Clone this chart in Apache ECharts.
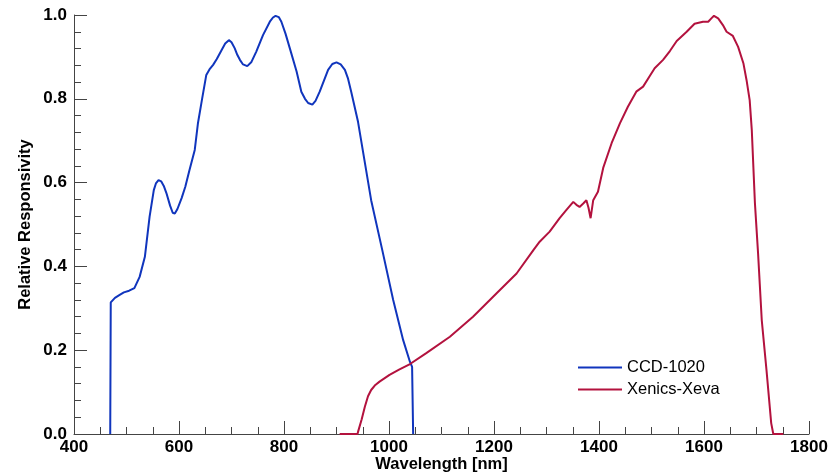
<!DOCTYPE html>
<html>
<head>
<meta charset="utf-8">
<script src="https://cdn.jsdelivr.net/npm/echarts@6/dist/echarts.min.js"></script>
<style>html,body{margin:0;padding:0;background:#fff}#c{width:832px;height:475px}</style>
</head>
<body>
<div id="c"></div>
<script>
var xTicks = [400, 600, 800, 1000, 1200, 1400, 1600, 1800];
var yTicks = [0.0, 0.2, 0.4, 0.6, 0.8, 1.0];
var seriesNames = ['CCD-1020', 'Xenics-Xeva'];

var ccdWavelength = [469, 470, 478, 487, 495, 505, 515, 525, 535, 544, 552, 556, 561, 566, 571, 576, 583, 588, 592, 597, 605, 612, 620, 630, 636, 644, 652, 658, 665, 672, 681, 688, 695, 700, 706, 711, 716, 722, 730, 738, 747, 760, 773, 779, 784, 790, 795, 803, 811, 824, 833, 840, 846, 854, 860, 868, 884, 892, 900, 908, 916, 922, 928, 941, 966, 987, 1008, 1027, 1040, 1044, 1046];
var ccdResponse = [0, 0.314, 0.325, 0.332, 0.338, 0.342, 0.348, 0.375, 0.423, 0.519, 0.582, 0.598, 0.606, 0.603, 0.592, 0.575, 0.545, 0.528, 0.526, 0.537, 0.563, 0.59, 0.630, 0.678, 0.741, 0.80, 0.857, 0.870, 0.881, 0.895, 0.916, 0.932, 0.940, 0.935, 0.921, 0.905, 0.893, 0.882, 0.878, 0.888, 0.912, 0.952, 0.984, 0.994, 0.998, 0.995, 0.984, 0.955, 0.921, 0.865, 0.817, 0.80, 0.790, 0.786, 0.795, 0.817, 0.869, 0.883, 0.887, 0.882, 0.869, 0.848, 0.817, 0.745, 0.558, 0.44, 0.320, 0.224, 0.172, 0.16, 0];

var xevaWavelength = [906, 940, 941, 948, 954, 960, 966, 974, 982, 1001, 1020, 1040, 1071, 1116, 1160, 1205, 1243, 1275, 1287, 1306, 1325, 1338, 1351, 1357, 1363, 1370, 1376, 1380, 1384, 1389, 1398, 1408, 1424, 1440, 1455, 1471, 1484, 1497, 1506, 1522, 1535, 1548, 1567, 1582, 1598, 1608, 1614, 1619, 1627, 1636, 1643, 1655, 1665, 1675, 1681, 1687, 1691, 1697, 1703, 1710, 1719, 1728, 1732, 1751];
var xevaResponse = [0, 0, 0.005, 0.035, 0.065, 0.09, 0.105, 0.117, 0.125, 0.141, 0.154, 0.167, 0.193, 0.232, 0.280, 0.336, 0.383, 0.439, 0.459, 0.483, 0.515, 0.535, 0.554, 0.547, 0.542, 0.550, 0.558, 0.54, 0.515, 0.558, 0.578, 0.635, 0.694, 0.742, 0.781, 0.817, 0.829, 0.855, 0.873, 0.893, 0.914, 0.938, 0.960, 0.979, 0.984, 0.984, 0.992, 0.998, 0.992, 0.976, 0.960, 0.950, 0.924, 0.885, 0.845, 0.797, 0.726, 0.551, 0.431, 0.272, 0.153, 0.026, 0, 0];

function pairs(xs, ys) { return xs.map(function (x, i) { return [x, ys[i]]; }); }

var font = 'Liberation Sans, Arial, sans-serif';
var axisColor = '#444';
var chart = echarts.init(document.getElementById('c'));
chart.setOption({
  animation: false,
  backgroundColor: '#fff',
  textStyle: { fontFamily: font },
  grid: { left: 74, right: 23, top: 15, bottom: 41, containLabel: false, outerBoundsMode: 'none' },
  legend: {
    orient: 'vertical', left: 578, top: 359, padding: 0,
    icon: 'rect', itemWidth: 44, itemHeight: 2, itemGap: 5,
    textStyle: { fontFamily: font, fontSize: 16.5, color: '#000' },
    data: seriesNames
  },
  xAxis: {
    type: 'value', min: xTicks[0], max: xTicks[xTicks.length - 1], interval: 200,
    name: 'Wavelength [nm]', nameLocation: 'middle', nameGap: 22, nameMoveOverlap: false,
    nameTextStyle: { fontFamily: font, fontWeight: 'bold', fontSize: 16.5, color: '#000' },
    axisLine: { lineStyle: { color: axisColor, width: 1 } },
    axisTick: { inside: true, length: 13, lineStyle: { color: axisColor } },
    minorTick: { show: true, splitNumber: 4, length: 7, lineStyle: { color: axisColor } },
    axisLabel: { fontFamily: font, fontWeight: 'bold', fontSize: 17, color: '#000', margin: 5,
      formatter: function (v) { return String(v); } },
    splitLine: { show: false }
  },
  yAxis: {
    type: 'value', min: yTicks[0], max: yTicks[yTicks.length - 1], interval: 0.2,
    name: 'Relative Responsivity', nameLocation: 'middle', nameGap: 40, nameMoveOverlap: false,
    nameTextStyle: { fontFamily: font, fontWeight: 'bold', fontSize: 16.5, color: '#000' },
    axisLine: { show: true, lineStyle: { color: axisColor, width: 1 } },
    axisTick: { show: true, inside: true, length: 13, lineStyle: { color: axisColor } },
    minorTick: { show: true, splitNumber: 5, length: 7, lineStyle: { color: axisColor } },
    axisLabel: { fontFamily: font, fontWeight: 'bold', fontSize: 17, color: '#000', margin: 7,
      formatter: function (v) { return v.toFixed(1); } },
    splitLine: { show: false }
  },
  series: [
    { name: seriesNames[0], type: 'line', symbol: 'none', data: pairs(ccdWavelength, ccdResponse),
      lineStyle: { color: '#1035bd', width: 2 }, itemStyle: { color: '#1035bd' } },
    { name: seriesNames[1], type: 'line', symbol: 'none', data: pairs(xevaWavelength, xevaResponse),
      lineStyle: { color: '#b3123e', width: 2 }, itemStyle: { color: '#b3123e' } }
  ]
});
</script>
</body>
</html>
